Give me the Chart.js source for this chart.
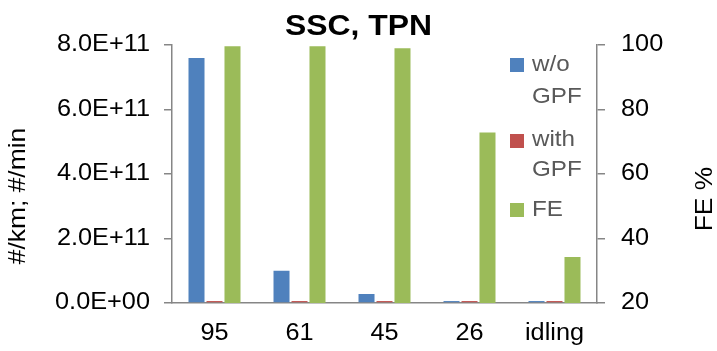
<!DOCTYPE html>
<html>
<head>
<meta charset="utf-8">
<script src="https://cdn.jsdelivr.net/npm/chart.js@4.4.1/dist/chart.umd.min.js"></script>
<style>
html,body{margin:0;padding:0;background:#fff;}
#wrap{width:717px;height:351px;position:relative;}
</style>
</head>
<body>
<div id="wrap"><canvas id="c" width="717" height="351"></canvas></div>
<script>
const categories = ['95', '61', '45', '26', 'idling'];
const woGPF = [7.6e11, 1.0e11, 0.28e11, 0.06e11, 0.06e11];
const withGPF = [0.06e11, 0.06e11, 0.06e11, 0.06e11, 0.06e11];
const feValues = [99.6, 99.6, 99.0, 72.9, 34.3];
const seriesNames = ['w/o GPF', 'with GPF', 'FE'];
const legendLines = [['w/o', 'GPF'], ['with', 'GPF'], ['FE']];
const leftTitle = '#/km; #/min';
const rightTitle = 'FE %';
const chartTitle = 'SSC, TPN';

const colors = ['#4F81BD', '#C0504D', '#9BBB59'];
const FONT = "'Liberation Sans', Arial, sans-serif";

// The reference font is slightly wider than Arial: stretch text along its own direction.
const SX = 1.1;
(function () {
  const P = CanvasRenderingContext2D.prototype;
  const origFill = P.fillText;
  const origMeasure = P.measureText;
  P.fillText = function (t, x, y, maxW) {
    this.save();
    this.translate(x, y);
    this.scale(SX, 1);
    origFill.call(this, t, 0, 0);
    this.restore();
  };
  P.measureText = function (t) {
    const m = origMeasure.call(this, t);
    return {
      width: m.width * SX,
      actualBoundingBoxAscent: m.actualBoundingBoxAscent,
      actualBoundingBoxDescent: m.actualBoundingBoxDescent,
      actualBoundingBoxLeft: m.actualBoundingBoxLeft * SX,
      actualBoundingBoxRight: m.actualBoundingBoxRight * SX,
      fontBoundingBoxAscent: m.fontBoundingBoxAscent,
      fontBoundingBoxDescent: m.fontBoundingBoxDescent
    };
  };
})();

function sci(v) {
  if (v === 0) return '0.0E+00';
  const e = Math.floor(Math.log10(Math.abs(v)) + 1e-9);
  const m = v / Math.pow(10, e);
  const es = (e < 0 ? '-' : '+') + String(Math.abs(e)).padStart(2, '0');
  return m.toFixed(1) + 'E' + es;
}

const overlay = {
  id: 'overlay',
  afterDraw(chart) {
    const ctx = chart.ctx;
    ctx.save();
    // axis titles
    ctx.fillStyle = '#000';
    ctx.font = '24px ' + FONT;
    ctx.textAlign = 'center';
    ctx.textBaseline = 'middle';
    ctx.save();
    ctx.translate(18, 196);
    ctx.rotate(-Math.PI / 2);
    ctx.fillText(leftTitle, 0, 0);
    ctx.restore();
    ctx.save();
    ctx.translate(705, 199);
    ctx.rotate(-Math.PI / 2);
    ctx.fillText(rightTitle, 0, 0);
    ctx.restore();
    // legend
    const lineY = [[65, 97], [140, 170], [210]];
    const boxY = [65, 141, 210];
    ctx.font = '22px ' + FONT;
    ctx.textAlign = 'left';
    legendLines.forEach((lines, i) => {
      ctx.fillStyle = colors[i];
      ctx.fillRect(510, boxY[i] - 7, 14, 14);
      ctx.fillStyle = '#595959';
      lines.forEach((t, j) => {
        ctx.fillText(t, 532, lineY[i][j]);
      });
    });
    ctx.restore();
  }
};

new Chart(document.getElementById('c'), {
  type: 'bar',
  data: {
    labels: categories,
    datasets: [
      { label: seriesNames[0], data: woGPF, backgroundColor: colors[0], yAxisID: 'y' },
      { label: seriesNames[1], data: withGPF, backgroundColor: colors[1], yAxisID: 'y' },
      { label: seriesNames[2], data: feValues, backgroundColor: colors[2], yAxisID: 'y1' }
    ]
  },
  options: {
    responsive: false,
    animation: false,
    devicePixelRatio: 1,
    layout: { padding: 0 },
    datasets: { bar: { categoryPercentage: 0.635, barPercentage: 0.89 } },
    plugins: {
      legend: { display: false },
      tooltip: { enabled: false },
      title: {
        display: true,
        text: chartTitle,
        color: '#000',
        font: { family: FONT, size: 29, weight: 'bold' },
        padding: { top: 10, bottom: 0.2 }
      }
    },
    scales: {
      x: {
        grid: { display: false, drawTicks: false, tickLength: 0 },
        border: { display: true, color: '#868686', width: 1.5 },
        ticks: { color: '#000', font: { family: FONT, size: 23 }, padding: 17, maxRotation: 0 },
        afterFit(s) { s.height = 48; }
      },
      y: {
        position: 'left',
        min: 0, max: 8e11,
        grid: { display: true, drawOnChartArea: false, drawTicks: true, tickLength: 8, color: '#868686', lineWidth: 1.5 },
        border: { display: true, color: '#868686', width: 1.5 },
        ticks: { stepSize: 2e11, color: '#000', font: { family: FONT, size: 23 }, padding: 14, callback: v => sci(v) },
        afterFit(s) { s.width = 172; }
      },
      y1: {
        position: 'right',
        min: 20, max: 100,
        grid: { display: true, drawOnChartArea: false, drawTicks: true, tickLength: 8, color: '#868686', lineWidth: 1.5 },
        border: { display: true, color: '#868686', width: 1.5 },
        ticks: { stepSize: 20, color: '#000', font: { family: FONT, size: 23 }, padding: 16, callback: v => String(v) },
        afterFit(s) { s.width = 120; }
      }
    }
  },
  plugins: [overlay]
});
</script>
</body>
</html>
